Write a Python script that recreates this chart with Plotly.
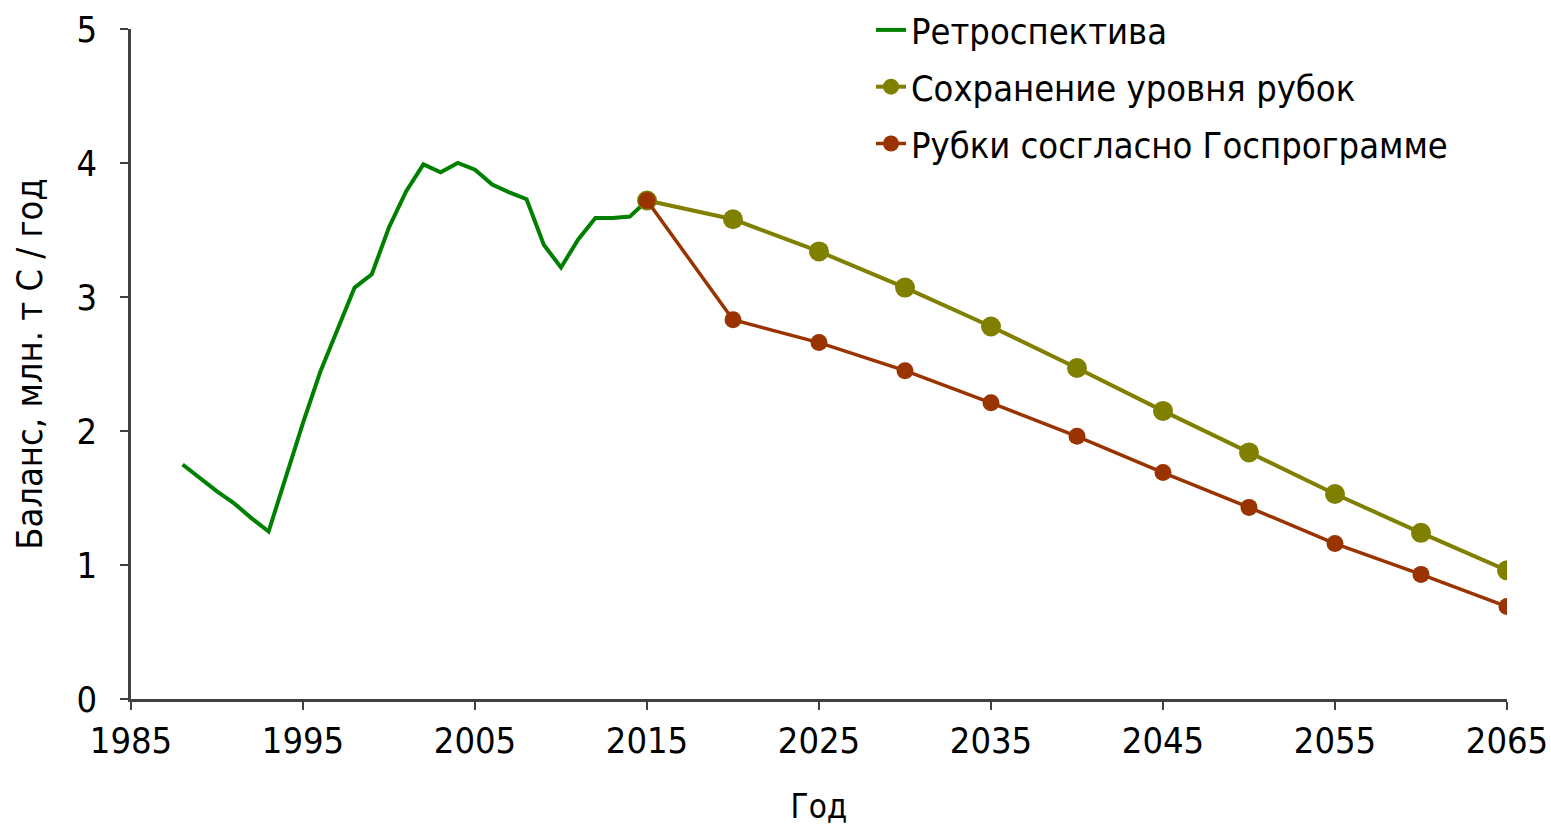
import plotly.graph_objects as go

retro_years = list(range(1988, 2016))
retro_vals = [1.75, 1.65, 1.55, 1.46, 1.35, 1.25, 1.66, 2.06, 2.44, 2.76, 3.07, 3.17,
              3.52, 3.79, 3.99, 3.93, 4.00, 3.95, 3.84, 3.78, 3.73, 3.39, 3.22, 3.43,
              3.59, 3.59, 3.60, 3.72]

proj_years = [2015, 2020, 2025, 2030, 2035, 2040, 2045, 2050, 2055, 2060, 2065]
keep_vals = [3.72, 3.58, 3.34, 3.07, 2.78, 2.47, 2.15, 1.84, 1.53, 1.24, 0.96]
gov_vals = [3.72, 2.83, 2.66, 2.45, 2.21, 1.96, 1.69, 1.43, 1.16, 0.93, 0.69]

names = ["Ретроспектива", "Сохранение уровня рубок", "Рубки сосгласно Госпрограмме"]

x_ticks = [1985, 1995, 2005, 2015, 2025, 2035, 2045, 2055, 2065]
y_ticks = [0, 1, 2, 3, 4, 5]

FONT = "Liberation Sans Narrow, Arial Narrow, DejaVu Sans Condensed, Liberation Sans, Arial, sans-serif"

W, H = 1551, 826
ML, MR, MB = 131, 44, 127
PLOT_TOP = 29
plot_h_full = H - MB  # margin top = 0

fig = go.Figure()
fig.add_trace(go.Scatter(x=retro_years, y=retro_vals, mode="lines", name=names[0],
                         legendgroup="a",
                         line=dict(color="#008000", width=4)))
fig.add_trace(go.Scatter(x=proj_years, y=keep_vals, mode="lines+markers", name=names[1],
                         legendgroup="b",
                         line=dict(color="#808000", width=4),
                         marker=dict(color="#808000", size=20)))
fig.add_trace(go.Scatter(x=proj_years, y=gov_vals, mode="lines+markers", name=names[2],
                         legendgroup="c",
                         line=dict(color="#993300", width=3.5),
                         marker=dict(color="#993300", size=17)))

axis_common = dict(showgrid=False, zeroline=False, showline=True, linecolor="#404040",
                   linewidth=2.5, ticks="outside", tickcolor="#404040", ticklen=8, tickwidth=1.5,
                   automargin=False,
                   tickfont=dict(size=36, color="#000000", family=FONT))

fig.update_layout(
    width=W, height=H,
    paper_bgcolor="white", plot_bgcolor="white",
    margin=dict(l=ML, r=MR, t=0, b=MB),
    font=dict(family=FONT, color="#000000"),
    xaxis=dict(range=[1985, 2065], tickvals=x_ticks, ticktext=[str(v) for v in x_ticks],
               title=dict(text="Год", font=dict(size=33, family=FONT), standoff=36),
               **axis_common),
    yaxis=dict(range=[0, 5], tickvals=y_ticks, ticktext=[str(v) for v in y_ticks],
               domain=[0, 1 - PLOT_TOP / plot_h_full],
               ticklabelstandoff=16,
               title=dict(text="Баланс, млн. т С / год", font=dict(size=36, family=FONT), standoff=23),
               **axis_common),
    legend=dict(x=(871 - ML) / (W - ML - MR), y=1.0,
                xanchor="left", yanchor="top", bgcolor="rgba(0,0,0,0)",
                tracegroupgap=7,
                font=dict(size=36, family=FONT, color="#000000"), itemwidth=30),
    showlegend=True,
)

fig.write_html("out.html", config={"displayModeBar": False},
               post_script="document.body.style.margin='0';")
